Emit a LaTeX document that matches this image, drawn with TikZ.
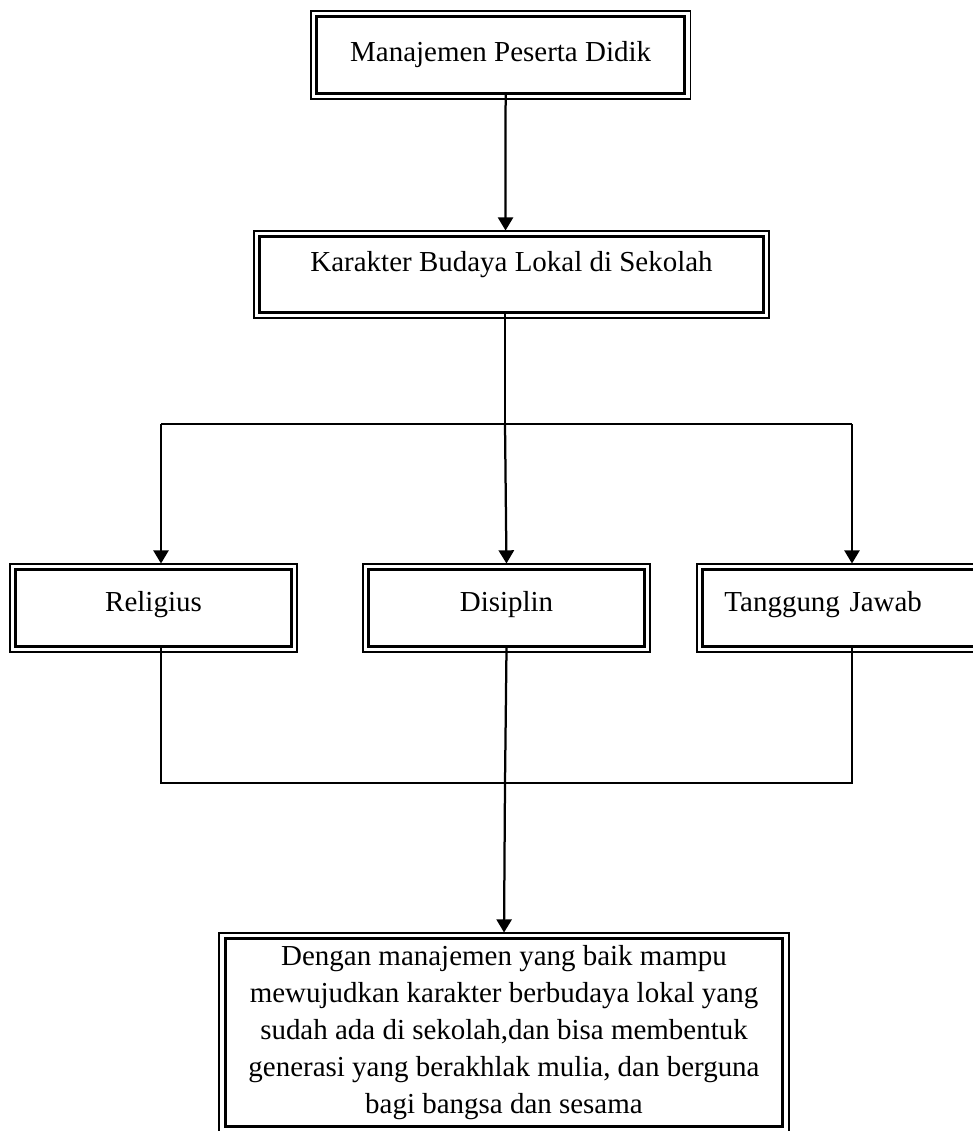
\documentclass[tikz,border=0pt]{standalone}
\usepackage{fontspec}
\setmainfont{Liberation Serif}
\usetikzlibrary{arrows.meta}

\tikzset{
  box/.style={draw, line width=2.1pt, inner sep=0pt, font=\fontsize{20.6}{26.3}\selectfont},
  link/.style={line width=1.6pt},
  arr/.style={link, -{Triangle[width=0.38cm, length=0.33cm]}, shorten >=0.12cm},
  fine/.style={line width=1.2pt},
}

\begin{document}
\begin{tikzpicture}[x=0.025cm, y=-0.025cm]
  \useasboundingbox (0,0) rectangle (973,1131);
  % boxes
  \node[box, anchor=north west, minimum width=9.19cm, text height=1.12cm, text depth=0.79cm] (top) at (315.3,15.3) {Manajemen Peserta Didik};
  \node[box, anchor=north west, minimum width=12.585cm, text height=0.87cm, text depth=1.015cm] (kar) at (258.3,235.3) {Karakter Budaya Lokal di Sekolah};
  \node[box, anchor=north west, minimum width=6.885cm, text height=1.04cm, text depth=0.87cm] (rel) at (14.3,568.3) {Religius};
  \node[box, anchor=north west, minimum width=6.885cm, text height=1.04cm, text depth=0.87cm] (dis) at (367.3,568.3) {Disiplin};
  \node[box, anchor=north west, text width=5.8cm, inner xsep=0.5425cm, align=left, text height=1.04cm, text depth=0.87cm] (tj) at (701.3,568.3) {Tanggung Jawab};
  \node[box, anchor=north, minimum width=13.935cm, minimum height=4.685cm, align=center] (hasil) at (504,937.3)
    {Dengan manajemen yang baik mampu\\mewujudkan karakter berbudaya lokal yang\\sudah ada di sekolah,dan bisa membentuk\\generasi yang berakhlak mulia, dan berguna\\bagi bangsa dan sesama};
  % outer thin frame
  \foreach \n in {top,kar,rel,dis,tj,hasil}
    \draw[fine] ([shift={(-4.55,-4.55)}]\n.north west) rectangle ([shift={(4.55,4.55)}]\n.south east);
  % branching
  \coordinate (lsplit) at (161,424);
  \coordinate (msplit) at (505,424);
  \coordinate (rsplit) at (852,424);
  \coordinate (join) at (505,783);
  \draw[arr] ([xshift=0.125cm]top.south) -- ([xshift=-0.15cm]kar.north);
  \draw[link] (msplit |- kar.south) -- (msplit);
  \draw[link] (lsplit) -- (rsplit);
  \draw[arr] (lsplit) -- (lsplit |- rel.north);
  \draw[arr] (msplit) -- (dis.north);
  \draw[arr] (rsplit) -- (rsplit |- tj.north);
  % joining
  \draw[fine] (lsplit |- rel.south) -- (lsplit |- join) -- (rsplit |- join) -- (rsplit |- tj.south);
  \draw[arr] (dis.south) -- (join) -- (hasil.north);
\end{tikzpicture}
\end{document}
